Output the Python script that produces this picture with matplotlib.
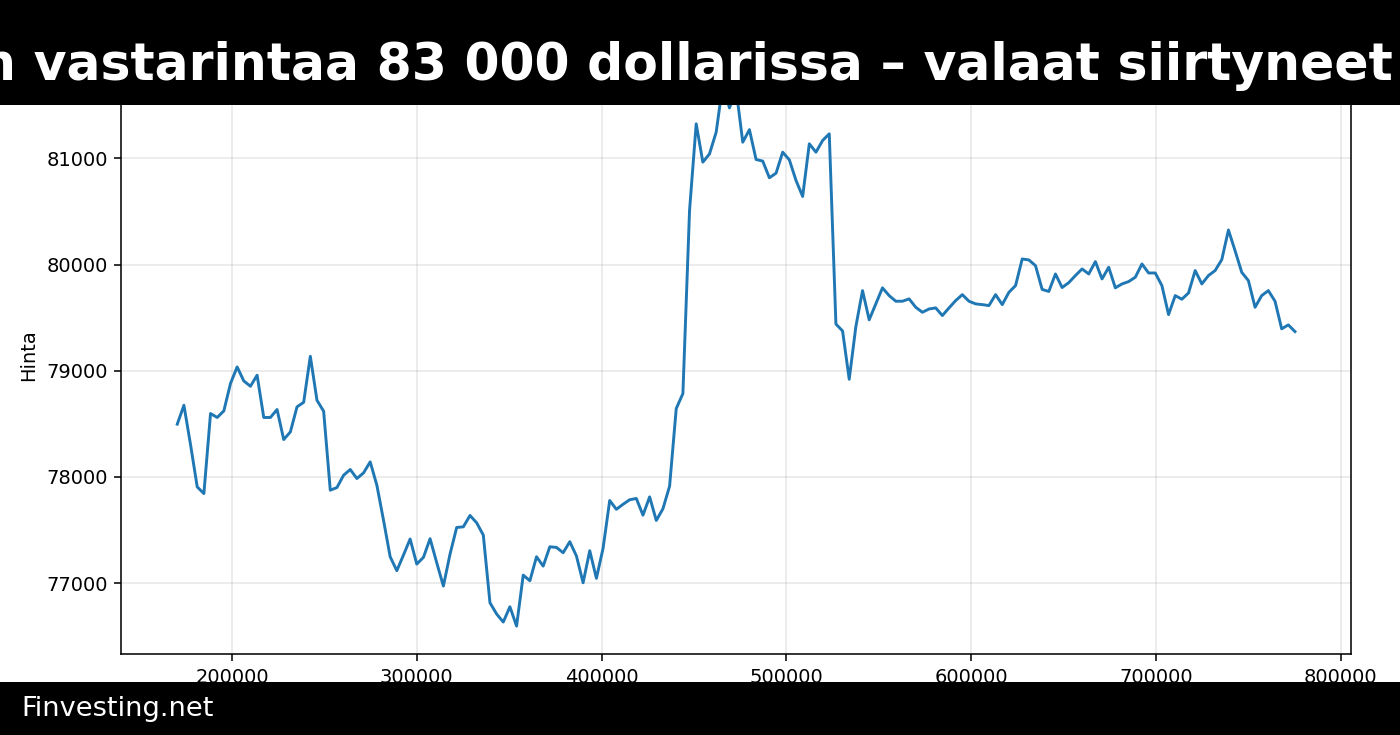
import numpy as np
import matplotlib
matplotlib.use("Agg")
import matplotlib.pyplot as plt
from matplotlib.patches import Rectangle

# hourly samples (x in seconds)
x_start = 170400
x_step = 3600

hinta = [
    78497, 78675, 78302, 77906, 77843, 78597, 78560, 78622, 78880, 79036,
    78904, 78854, 78958, 78560, 78560, 78635, 78352, 78424, 78660, 78703,
    79136, 78722, 78619, 77875, 77900, 78016, 78070, 77985, 78038, 78142,
    77922, 77593, 77248, 77117, 77264, 77415, 77179, 77242, 77418, 77192,
    76972, 77273, 77524, 77530, 77637, 77568, 77452, 76815, 76709, 76633,
    76777, 76595, 77075, 77022, 77248, 77160, 77342, 77336, 77286, 77390,
    77255, 77003, 77305, 77045, 77327, 77778, 77695, 77742, 77785, 77797,
    77640, 77812, 77590, 77700, 77913, 78644, 78785, 80511, 81326, 80965,
    81043, 81247, 81700, 81476, 81650, 81153, 81271, 80990, 80975, 80818,
    80861, 81059, 80987, 80793, 80642, 81138, 81059, 81169, 81232, 79440,
    79375, 78920, 79417, 79755, 79480, 79630, 79781, 79708, 79655, 79655,
    79677, 79598, 79551, 79582, 79592, 79520, 79592, 79661, 79717, 79655,
    79630, 79623, 79614, 79717, 79623, 79739, 79802, 80053, 80044, 79990,
    79766, 79747, 79912, 79784, 79830, 79897, 79959, 79912, 80028, 79865,
    79975, 79781, 79818, 79840, 79881, 80006, 79921, 79921, 79802, 79529,
    79708, 79674, 79733, 79944, 79818, 79897, 79944, 80047, 80326, 80130,
    79927, 79849, 79598, 79708, 79755, 79655, 79395, 79432, 79369,
]
aika = x_start + x_step * np.arange(len(hinta))

title_text = "n vastarintaa 83 000 dollarissa \u2013 valaat siirtyneet"
footer_text = "Finvesting.net"

fig = plt.figure(figsize=(10, 5.25), dpi=140)
ax = fig.add_axes([0.0867, 0.1102, 0.8782, 0.8129])
ax.plot(aika, hinta, color="#1f77b4", linewidth=1.5)
ax.set_xlim(140160, 805440)
ax.set_ylim(76332, 81960)
ax.set_ylabel("Hinta")
ax.grid(True, alpha=0.3)

# black header and footer bars
fig.add_artist(Rectangle((0, 0.857), 1, 0.143, transform=fig.transFigure,
                         facecolor="black", edgecolor="none", zorder=10))
fig.add_artist(Rectangle((0, 0), 1, 0.0721, transform=fig.transFigure,
                         facecolor="black", edgecolor="none", zorder=10))
fig.text(-19.5 / 1400, 1 - 80 / 735, title_text, color="white", fontsize=26,
         fontweight="bold", ha="left", va="baseline", zorder=11)
fig.text(21 / 1400, 1 - 709 / 735, footer_text, color="white", fontsize=14,
         ha="left", va="center", zorder=11)

fig.savefig("out.png", dpi=140)
